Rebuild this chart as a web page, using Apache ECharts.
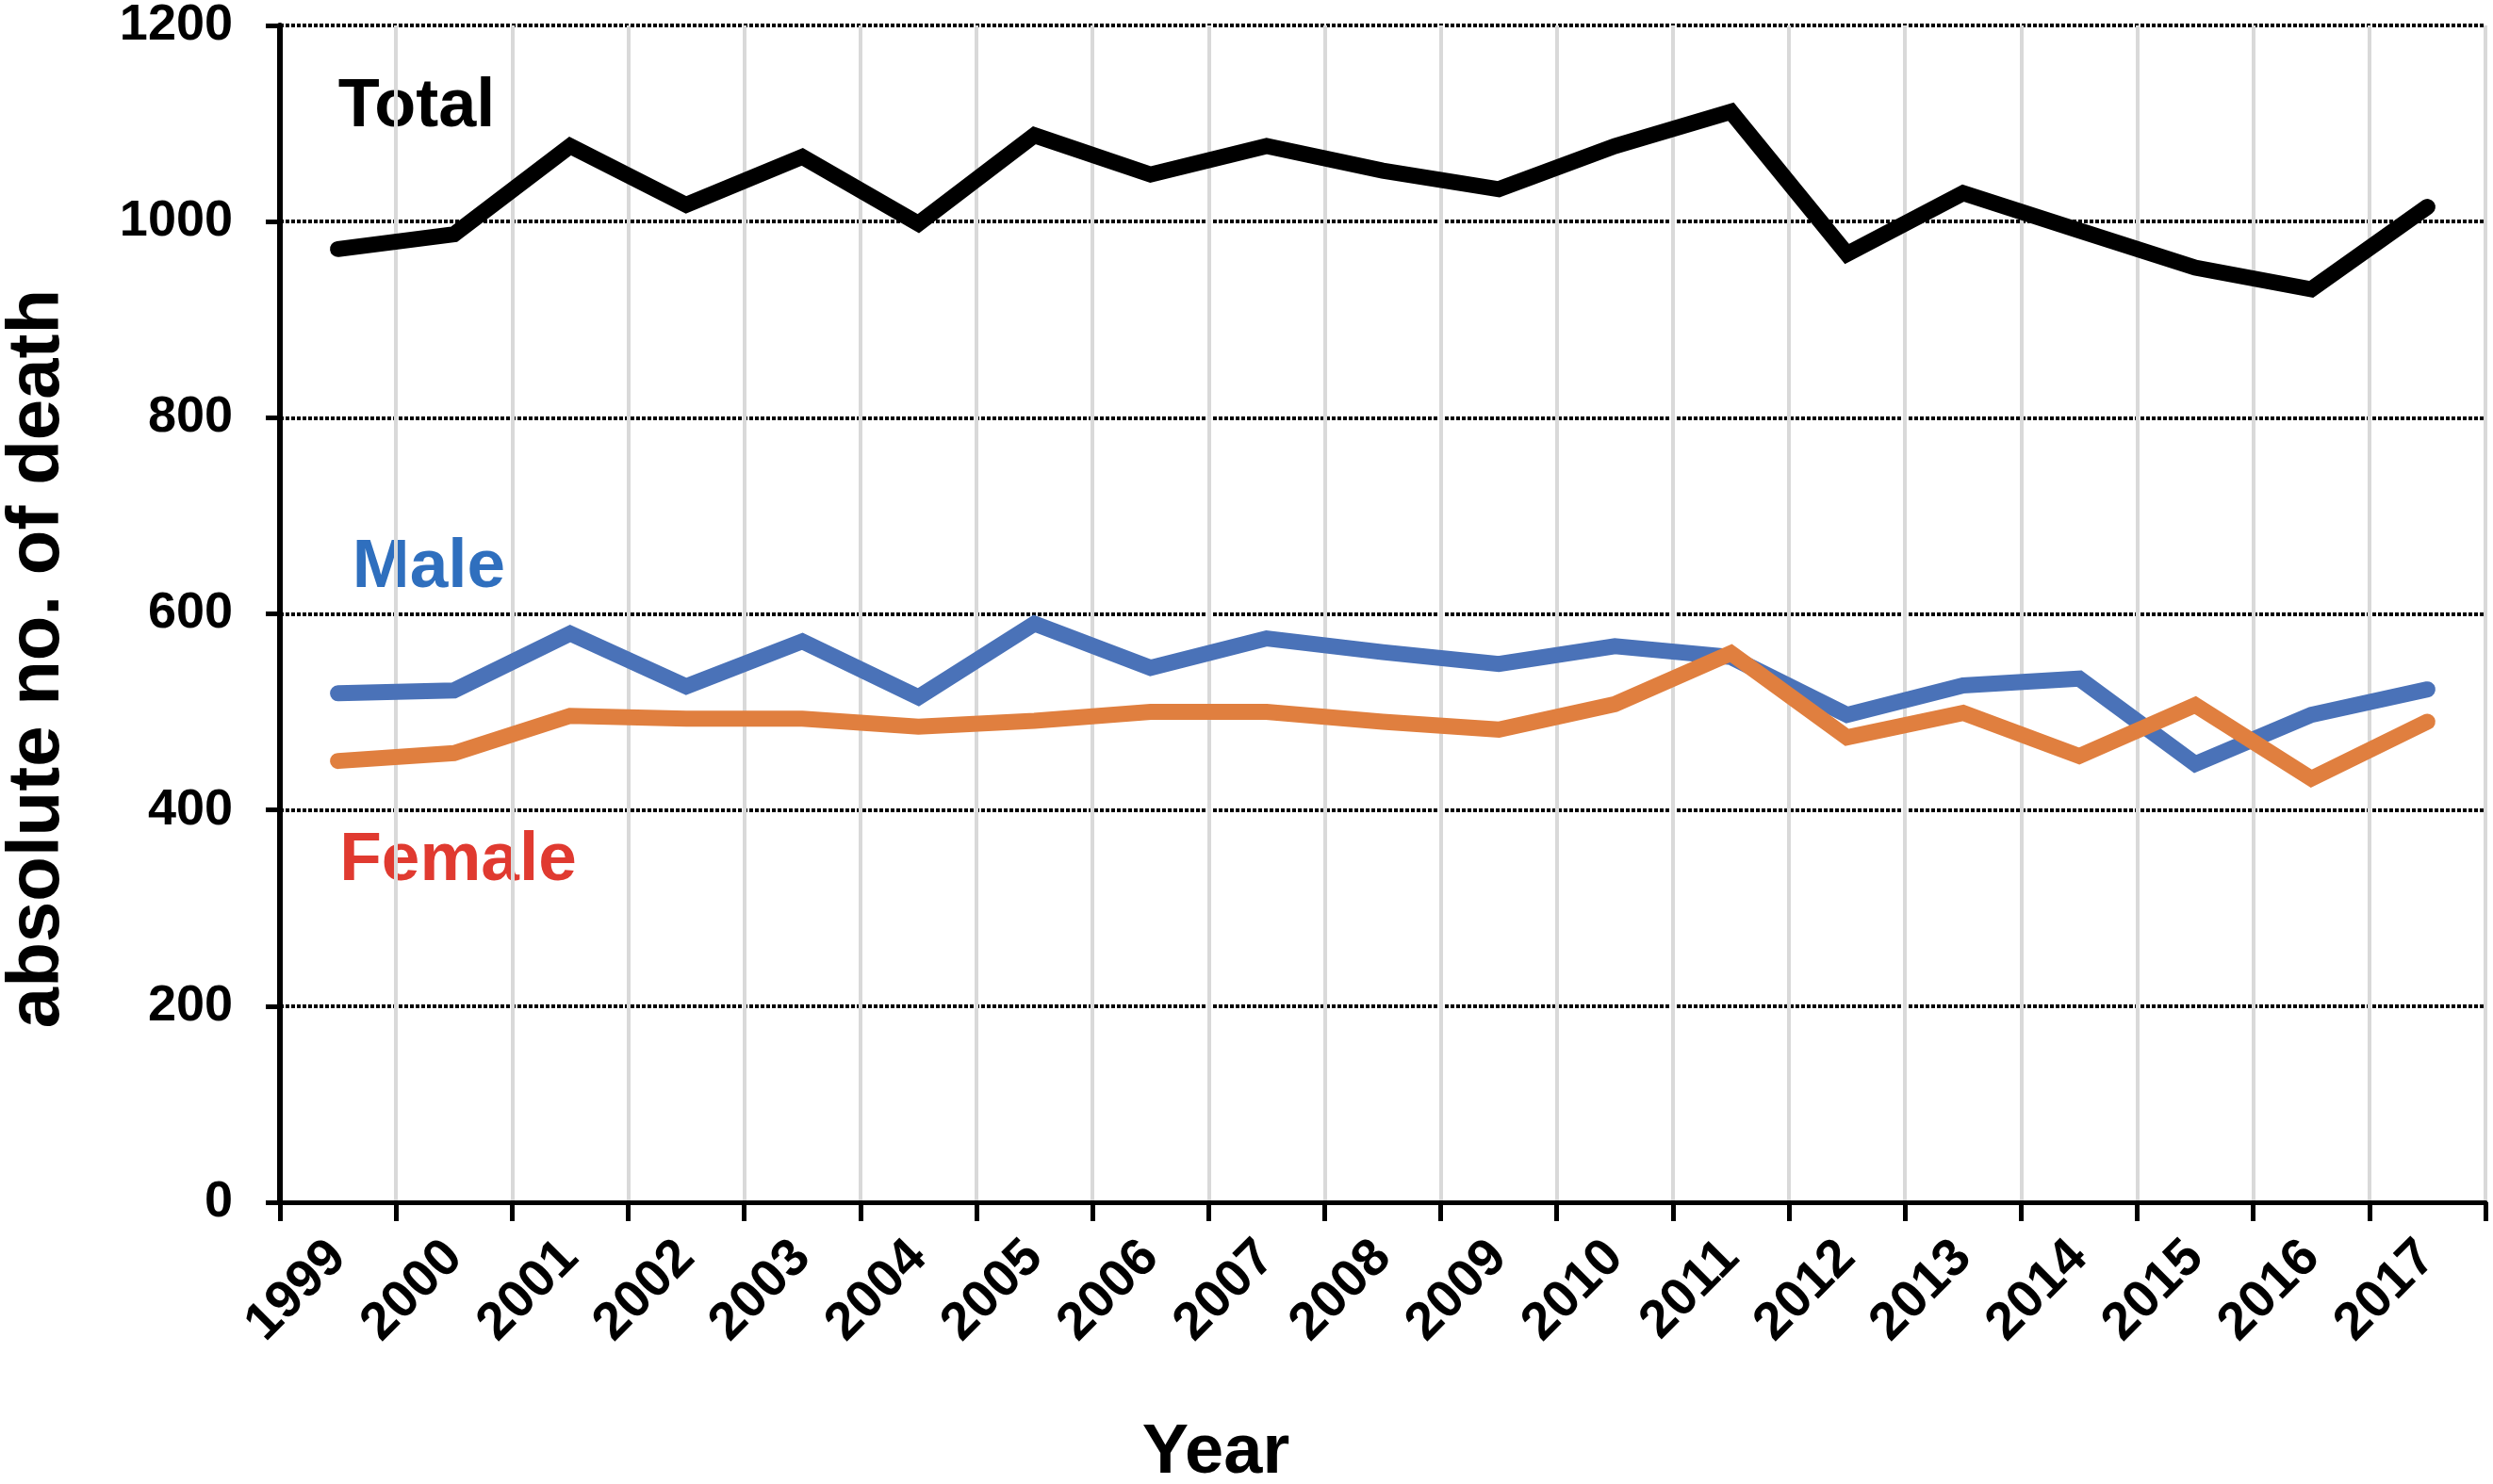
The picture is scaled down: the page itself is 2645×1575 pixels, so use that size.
<!DOCTYPE html>
<html>
<head>
<meta charset="utf-8">
<script src="https://cdn.jsdelivr.net/npm/echarts@6/dist/echarts.min.js"></script>
<style>
html,body{margin:0;padding:0;background:#fff}
#main{width:2645px;height:1575px}
</style>
</head>
<body>
<div id="main"></div>
<script>
// data
var years = ['1999','2000','2001','2002','2003','2004','2005','2006','2007','2008',
             '2009','2010','2011','2012','2013','2014','2015','2016','2017']
var total = [972,987,1077,1017,1066,998,1088,1048,1077,1052,1033,1077,1112,967,1029,991,953,931,1015]
var male = [519,522,580,526,572,515,590,545,575,561,549,567,556,497,527,534,447,497,523]
var female = [450,458,496,493,493,485,491,500,500,490,482,508,560,474,499,455,507,432,490]
var yMin = 0
var yMax = 1200
var yStep = 200

var font = '"Liberation Sans", Arial, sans-serif'

var chart = echarts.init(document.getElementById('main'))

function lineSeries(name, data, color) {
    return {
        name: name,
        type: 'line',
        data: data,
        symbol: 'none',
        smooth: false,
        lineStyle: {color: color, width: 17, cap: 'round', join: 'miter'},
        z: 5
    }
}

var option = {
    backgroundColor: '#fff',
    animation: false,
    grid: {left: 297, right: 8, top: 25, bottom: 299},
    xAxis: {
        type: 'category',
        data: years,
        boundaryGap: true,
        axisLine: {lineStyle: {color: '#000', width: 5}},
        axisTick: {show: true, length: 20, lineStyle: {color: '#000', width: 5}},
        splitLine: {show: true, lineStyle: {color: '#d9d9d9', width: 4}},
        axisLabel: {
            interval: 0,
            rotate: 45,
            margin: 50,
            color: '#000',
            fontFamily: font,
            fontWeight: 'bold',
            fontSize: 56
        }
    },
    yAxis: {
        type: 'value',
        min: yMin,
        max: yMax,
        interval: yStep,
        axisLine: {show: true, lineStyle: {color: '#000', width: 6}},
        axisTick: {show: true, inside: false, length: 15, lineStyle: {color: '#000', width: 5}},
        splitLine: {show: true, lineStyle: {color: '#000', width: 4, type: [4, 2]}},
        axisLabel: {
            margin: 50,
            color: '#000',
            fontFamily: font,
            fontWeight: 'bold',
            fontSize: 54,
            formatter: function (v) { return String(v) }
        }
    },
    graphic: [
        {type: 'text', x: 442, y: 114, style: {text: 'Total', fill: '#000', font: 'bold 72px ' + font, align: 'center', verticalAlign: 'middle'}},
        {type: 'text', x: 455, y: 603, style: {text: 'Male', fill: '#2f6fbe', font: 'bold 73px ' + font, align: 'center', verticalAlign: 'middle'}},
        {type: 'text', x: 486, y: 914, style: {text: 'Female', fill: '#e03a30', font: 'bold 73px ' + font, align: 'center', verticalAlign: 'middle'}},
        {type: 'text', x: 40, y: 699, rotation: Math.PI / 2, style: {text: 'absolute no. of death', fill: '#000', font: 'bold 78px ' + font, align: 'center', verticalAlign: 'middle'}},
        {type: 'text', x: 1290, y: 1543, style: {text: 'Year', fill: '#000', font: 'bold 74px ' + font, align: 'center', verticalAlign: 'middle'}}
    ],
    series: [
        lineSeries('Total', total, '#000000'),
        lineSeries('Male', male, '#4a72b8'),
        lineSeries('Female', female, '#e07f3f')
    ]
}

chart.setOption(option)
</script>
</body>
</html>
